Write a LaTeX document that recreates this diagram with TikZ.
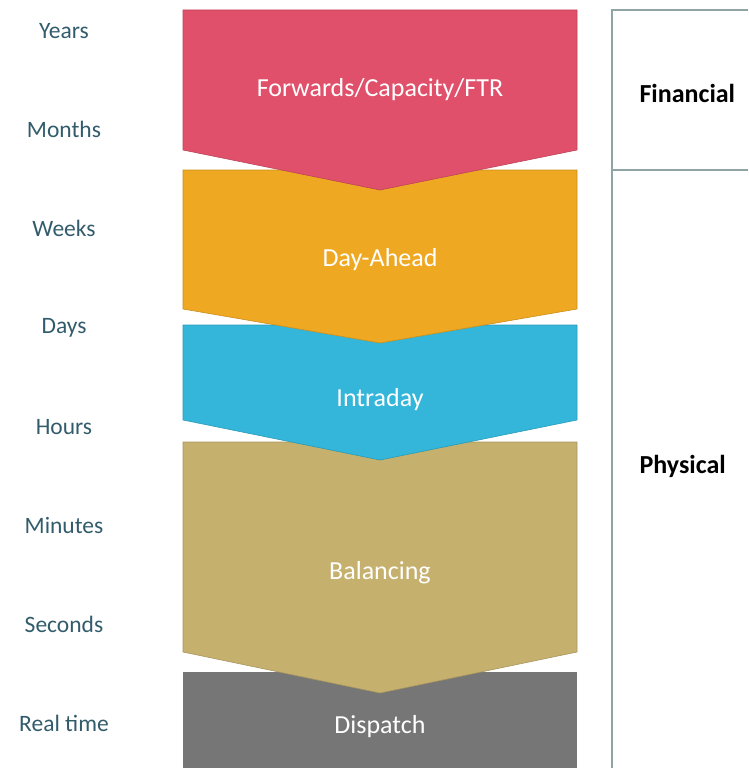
\documentclass[tikz,border=0pt]{standalone}
\usepackage{fontspec}
\setmainfont{Carlito}
\usetikzlibrary{positioning}
\definecolor{stagepink}{RGB}{224,80,106}
\definecolor{stageorange}{RGB}{238,168,34}
\definecolor{stageblue}{RGB}{51,182,217}
\definecolor{stagetan}{RGB}{197,176,110}
\definecolor{stagegray}{RGB}{118,118,118}
\definecolor{timeteal}{RGB}{50,92,108}
\definecolor{panelgray}{RGB}{143,165,165}

\begin{document}
\begin{tikzpicture}[x=1pt, y=-1pt,
  stage/.style={fill=#1, draw=#1!85!black, line width=0.6pt},
  stagetext/.style={text=white, font=\fontsize{26}{30}\selectfont},
  timelbl/.style={text=timeteal, font=\fontsize{23.5}{28}\selectfont},
  catlbl/.style={anchor=west, font=\fontsize{26}{30}\selectfont\bfseries},
  panel/.style={draw=panelgray, line width=2pt}
]
\useasboundingbox (0,0) rectangle (748,768);

%% Stages, drawn bottom up so each tip lies over the next block
\fill[stagegray] (183,672) rectangle (577,768);
\foreach \top/\side/\tip/\col in {442/652/693/stagetan, 325/420/460/stageblue,
                                  170/309/343/stageorange, 10/150/190/stagepink}
  \path[stage=\col] (183,\top) -- (577,\top) -- (577,\side)
              -- (380,\tip) -- (183,\side) -- cycle;

\node[stagetext] (fwd)   at (380,90)  {Forwards/Capacity/FTR};
\node[stagetext] (dayah) at (380,260) {Day-Ahead};
\node[stagetext] (intra) at (380,400) {Intraday};
\node[stagetext] (bal)   at (380,573) {Balancing};
\node[stagetext] (disp)  at (380,727) {Dispatch};

%% Time scale on the left
\foreach \lbl [count=\i from 0] in {Years,Months,Weeks,Days,Hours,Minutes,Seconds,Real time}
  \node[timelbl] (t\i) at (64,31+98.9*\i) {\lbl};

%% Financial / physical panel
\draw[panel] (748,10) -- (612,10) -- (612,768);
\draw[panel] (612,170) -- (748,170);
\node[catlbl] (fin)  at (636,93)  {Financial};
\node[catlbl] (phys) at (636,466) {Physical};

\end{tikzpicture}
\end{document}
